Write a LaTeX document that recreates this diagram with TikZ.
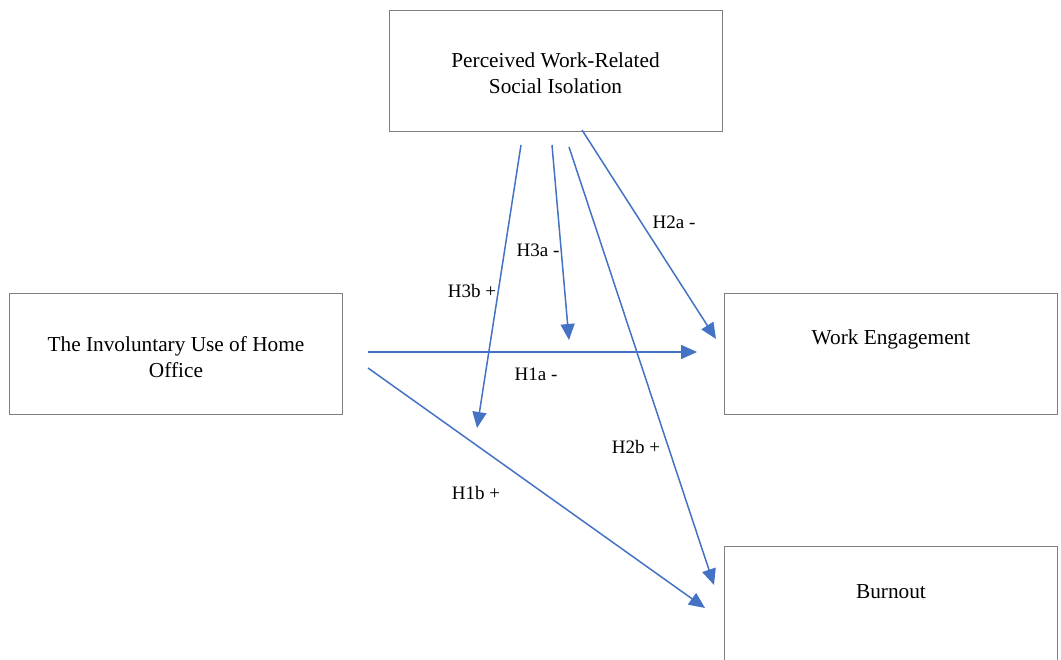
\documentclass[tikz,border=0pt]{standalone}
\usepackage{fontspec}
\setmainfont{Liberation Serif}
\usetikzlibrary{arrows.meta}
\definecolor{arrowblue}{HTML}{4472C4}
\definecolor{boxgray}{HTML}{7F7F7F}
\begin{document}
\begin{tikzpicture}[x=1pt,y=-1pt,
  box/.style={draw=boxgray,line width=1.4pt,minimum width=333pt,minimum height=121pt,inner sep=0pt,anchor=north west},
  txt/.style={font=\fontsize{21.3}{26}\selectfont,align=center,inner sep=0pt},
  lbl/.style={font=\fontsize{19}{22}\selectfont,inner sep=0pt},
  arr/.style={draw=arrowblue,line width=1.5pt,-{Triangle[length=16pt,width=14pt]}}]
\useasboundingbox (0,0) rectangle (1061,660);
\clip (0,0) rectangle (1061,660);
% boxes
\node[box] (psi) at (389,10) {};
\node[box] (iuho) at (9,293) {};
\node[box] (we) at (724,293) {};
\node[box] (bo) at (724,546) {};
% texts
\node[txt] (psit) at (555.5,73) {Perceived Work-Related\\Social Isolation};
\node[txt] (iuhot) at (176,357) {The Involuntary Use of Home\\Office};
\node[txt] (wet) at (891,339) {Work Engagement};
\node[txt] (bot) at (891,592) {Burnout};
% arrow ends
\coordinate (h1as) at (368,352);
\coordinate (h1ae) at (697,352);
\coordinate (h1bs) at (368,368);
\coordinate (h1be) at (705,608);
\coordinate (h2as) at (582,130);
\coordinate (h2ae) at (716,339);
\coordinate (h2bs) at (569,147);
\coordinate (h2be) at (714,585);
\coordinate (h3as) at (552,145);
\coordinate (h3ae) at (569,340);
\coordinate (h3bs) at (521,145);
\coordinate (h3be) at (477,428);
% arrows
\draw[arr] (h1as) -- (h1ae);
\draw[arr] (h1bs) -- (h1be);
\draw[arr] (h2as) -- (h2ae);
\draw[arr] (h2bs) -- (h2be);
\draw[arr] (h3as) -- (h3ae);
\draw[arr] (h3bs) -- (h3be);
% labels
\node[lbl] (l1a) at (536,374) {H1a -};
\node[lbl] (l1b) at (476,493) {H1b +};
\node[lbl] (l2a) at (674,222) {H2a -};
\node[lbl] (l2b) at (636,447) {H2b +};
\node[lbl] (l3a) at (538,250) {H3a -};
\node[lbl] (l3b) at (472,291) {H3b +};
\end{tikzpicture}
\end{document}
